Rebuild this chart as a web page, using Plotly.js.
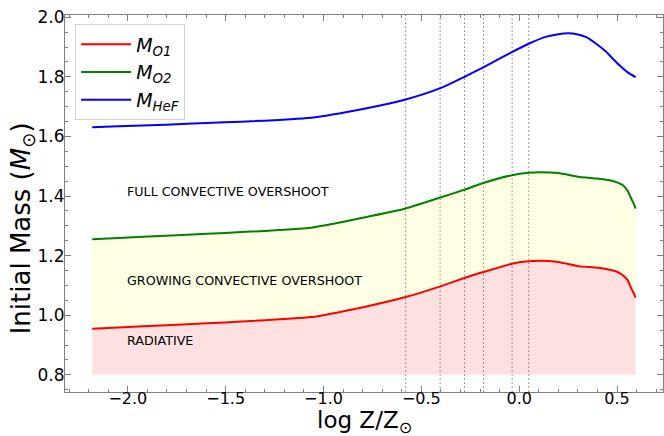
<!DOCTYPE html>
<html>
<head>
<meta charset="utf-8">
<script src="https://cdn.plot.ly/plotly-3.0.1.min.js"></script>
<style>html,body{margin:0;padding:0;background:#fff;}#chart{width:664px;height:436px;}</style>
</head>
<body>
<div id="chart"></div>
<script>
// log Z/Zsun sample points
const logZ = [-2.182, -1.063, -0.792, -0.58, -0.403, -0.277, -0.183, -0.037, 0.048, 0.105, 0.2, 0.309, 0.394, 0.462, 0.5, 0.53, 0.555, 0.573, 0.585, 0.595];
const mO1  = [0.955, 0.994, 1.028, 1.061, 1.097, 1.126, 1.145, 1.173, 1.181, 1.183, 1.179, 1.164, 1.160, 1.153, 1.146, 1.134, 1.117, 1.090, 1.075, 1.059];
const mO2  = [1.255, 1.294, 1.328, 1.358, 1.395, 1.422, 1.444, 1.470, 1.478, 1.480, 1.477, 1.464, 1.459, 1.453, 1.446, 1.436, 1.417, 1.391, 1.375, 1.358];
const logZHeF = [-2.182, -1.063, -0.792, -0.58, -0.403, -0.277, -0.183, -0.037, 0.048, 0.139, 0.2, 0.25, 0.3, 0.343, 0.395, 0.446, 0.48, 0.514, 0.555, 0.595];
const mHeF = [1.631, 1.663, 1.693, 1.724, 1.762, 1.801, 1.832, 1.883, 1.911, 1.935, 1.943, 1.946, 1.942, 1.933, 1.910, 1.883, 1.860, 1.838, 1.815, 1.799];
const baseMass = 0.8;
const vlines = [-0.580, -0.404, -0.279, -0.182, -0.036, 0.049];
const regionLabels = ["FULL CONVECTIVE OVERSHOOT", "GROWING CONVECTIVE OVERSHOOT", "RADIATIVE"];
const regionLabelY = [1.416, 1.117, 0.916];
const regionLabelX = -2.0;
const xTitle = 'log Z/Z<sub>⊙</sub>';
const yTitle = 'Initial Mass (<i>M</i><sub>⊙</sub>)';
const seriesNames = ['<i>M</i><sub><i>O1</i></sub>', '<i>M</i><sub><i>O2</i></sub>', '<i>M</i><sub><i>HeF</i></sub>'];

const font = "DejaVu Sans, sans-serif";
const sm = 0.45;
const traces = [
  // fills (no legend)
  {x: logZ, y: logZ.map(() => baseMass), mode: 'lines', line: {width: 0, color: 'rgba(0,0,0,0)'}, showlegend: false, hoverinfo: 'skip'},
  {x: logZ, y: mO1, mode: 'lines', line: {width: 0, color: 'rgba(0,0,0,0)', shape: 'spline', smoothing: sm}, fill: 'tonexty', fillcolor: 'rgba(255,0,0,0.12)', showlegend: false, hoverinfo: 'skip'},
  {x: logZ, y: mO2, mode: 'lines', line: {width: 0, color: 'rgba(0,0,0,0)', shape: 'spline', smoothing: sm}, fill: 'tonexty', fillcolor: 'rgba(255,255,0,0.11)', showlegend: false, hoverinfo: 'skip'},
  // lines
  {x: logZ, y: mO1, mode: 'lines', name: seriesNames[0], line: {color: '#ff0000', width: 2, shape: 'spline', smoothing: sm}},
  {x: logZ, y: mO2, mode: 'lines', name: seriesNames[1], line: {color: '#008000', width: 2, shape: 'spline', smoothing: sm}},
  {x: logZHeF, y: mHeF, mode: 'lines', name: seriesNames[2], line: {color: '#0000ff', width: 2, shape: 'spline', smoothing: 0.6}}
];

const shapes = vlines.map(v => ({type: 'line', xref: 'x', yref: 'paper', x0: v, x1: v, y0: 0, y1: 1, layer: 'below', line: {color: '#808080', width: 1, dash: '1.5px,2.5px'}}));
const annotations = regionLabels.map((t, i) => ({text: t, x: regionLabelX, y: regionLabelY[i], xref: 'x', yref: 'y', xanchor: 'left', yanchor: 'middle', xshift: -3, showarrow: false, font: {family: font, size: 12.7, color: '#000'}}));
annotations.push({text: xTitle, xref: 'paper', yref: 'paper', x: 0.5, y: 0, yshift: -13, xanchor: 'center', yanchor: 'top', showarrow: false, font: {family: font, size: 23, color: '#000'}});
annotations.push({text: yTitle, xref: 'paper', yref: 'paper', x: -0.072, y: 0.434, xanchor: 'center', yanchor: 'middle', textangle: -90, showarrow: false, font: {family: font, size: 26, color: '#000'}});

const axisCommon = {
  showline: true, linecolor: '#808080', linewidth: 1, mirror: 'allticks',
  ticks: 'inside', ticklen: 6, tickcolor: '#808080', tickwidth: 1,
  showgrid: false, zeroline: false,
  tickfont: {family: font, size: 16, color: '#000'}
};

const layout = {
  width: 664, height: 436,
  margin: {l: 65, r: 1, t: 15, b: 44},
  paper_bgcolor: '#fff', plot_bgcolor: '#fff',
  font: {family: font, color: '#000'},
  xaxis: Object.assign({}, axisCommon, {
    range: [-2.321, 0.735], tick0: 0, dtick: 0.5, tickformat: '.1f', ticklabelstandoff: -8,
    minor: {ticks: 'inside', ticklen: 3, dtick: 0.1, tick0: 0, tickcolor: '#808080'}
  }),
  yaxis: Object.assign({}, axisCommon, {
    range: [0.7425, 2.0075], tick0: 0, dtick: 0.2, tickformat: '.1f', ticklabelstandoff: -4,
    minor: {ticks: 'inside', ticklen: 3, dtick: 0.05, tick0: 0, tickcolor: '#808080'},
    tickfont: {family: font, size: 17, color: '#000'}
  }),
  legend: {x: 0.017, y: 0.975, xanchor: 'left', yanchor: 'top', traceorder: 'normal', itemwidth: 50, bgcolor: 'rgba(255,255,255,0.85)', bordercolor: '#d0d0d0', borderwidth: 1, font: {family: font, size: 19, color: '#000'}},
  shapes: shapes,
  annotations: annotations
};

Plotly.newPlot('chart', traces, layout, {displayModeBar: false, staticPlot: true});
</script>
</body>
</html>
